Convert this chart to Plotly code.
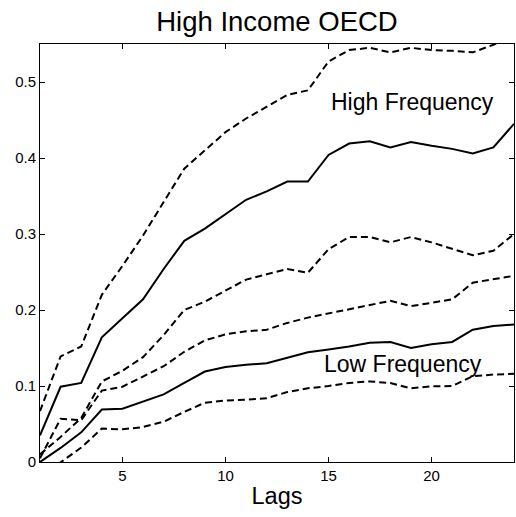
import plotly.graph_objects as go

lags = list(range(1, 25))

high_mid = [0.035, 0.099, 0.104, 0.164, 0.189, 0.214, 0.254, 0.291, 0.307, 0.326, 0.345, 0.356,
            0.369, 0.369, 0.404, 0.419, 0.422, 0.414, 0.421, 0.416, 0.412, 0.406, 0.414, 0.445]
high_upper = [0.067, 0.139, 0.152, 0.220, 0.258, 0.298, 0.342, 0.386, 0.410, 0.434, 0.452, 0.467,
              0.483, 0.489, 0.527, 0.542, 0.545, 0.539, 0.545, 0.542, 0.541, 0.539, 0.549, 0.562]
high_lower = [0.010, 0.033, 0.058, 0.106, 0.120, 0.138, 0.167, 0.200, 0.211, 0.226, 0.240, 0.247,
              0.254, 0.249, 0.280, 0.296, 0.296, 0.289, 0.296, 0.289, 0.281, 0.272, 0.278, 0.300]

low_mid = [0.0, 0.0185, 0.039, 0.069, 0.070, 0.079, 0.089, 0.104, 0.119, 0.125, 0.128, 0.130,
           0.137, 0.1445, 0.148, 0.152, 0.157, 0.158, 0.150, 0.155, 0.158, 0.174, 0.179, 0.181]
low_upper = [0.005, 0.057, 0.055, 0.094, 0.099, 0.113, 0.126, 0.145, 0.160, 0.168, 0.172, 0.174,
             0.183, 0.190, 0.1955, 0.201, 0.207, 0.212, 0.205, 0.210, 0.214, 0.236, 0.241, 0.245]
low_lower = [-0.02, 0.0, 0.019, 0.044, 0.043, 0.046, 0.053, 0.066, 0.078, 0.081, 0.082, 0.084,
             0.092, 0.097, 0.100, 0.104, 0.106, 0.104, 0.097, 0.0995, 0.100, 0.113, 0.115, 0.116]

x_ticks = [5, 10, 15, 20]
y_ticks = [0, 0.1, 0.2, 0.3, 0.4, 0.5]
y_tick_labels = ["0", "0.1", "0.2", "0.3", "0.4", "0.5"]

FONT = "Liberation Sans, Arial, Helvetica, sans-serif"

fig = go.Figure()
series = [
    (high_upper, "dash"), (high_mid, "solid"), (high_lower, "dash"),
    (low_upper, "dash"), (low_mid, "solid"), (low_lower, "dash"),
]
for ys, style in series:
    fig.add_trace(go.Scatter(
        x=lags, y=ys, mode="lines",
        line=dict(color="black", width=2, dash="7px,4px" if style == "dash" else "solid"),
        showlegend=False, hoverinfo="skip", cliponaxis=True,
    ))

fig.add_annotation(x=15.0, y=0.474, text="High Frequency", showarrow=False,
                   xanchor="left", yanchor="middle", font=dict(size=23, color="black", family=FONT))
fig.add_annotation(x=14.69, y=0.1285, text="Low Frequency", showarrow=False,
                   xanchor="left", yanchor="middle", font=dict(size=23, color="black", family=FONT))

axis_common = dict(
    showgrid=False, zeroline=False, showline=True, linecolor="black", linewidth=1,
    mirror="ticks", ticks="inside", ticklen=5, tickcolor="black", tickwidth=1,
    tickfont=dict(size=15, color="black", family=FONT), automargin=False,
)

fig.update_layout(
    width=516, height=517,
    margin=dict(l=40, r=2, t=44, b=55),
    paper_bgcolor="white", plot_bgcolor="white",
    title=dict(text="High Income OECD", x=0.5368, xanchor="center",
               y=1 - 21 / 517, yanchor="middle", yref="container",
               font=dict(size=27.5, color="black", family=FONT)),
    xaxis=dict(range=[1, 24], tickvals=x_ticks, ticktext=[str(v) for v in x_ticks],
               title=dict(text="Lags", font=dict(size=23.5, color="black", family=FONT), standoff=4),
               **axis_common),
    yaxis=dict(range=[0, 0.55], tickvals=y_ticks, ticktext=y_tick_labels, **axis_common),
)

fig.write_html("out.html", config={"displayModeBar": False},
               post_script="document.body.style.margin='0';document.body.style.overflow='hidden';")
